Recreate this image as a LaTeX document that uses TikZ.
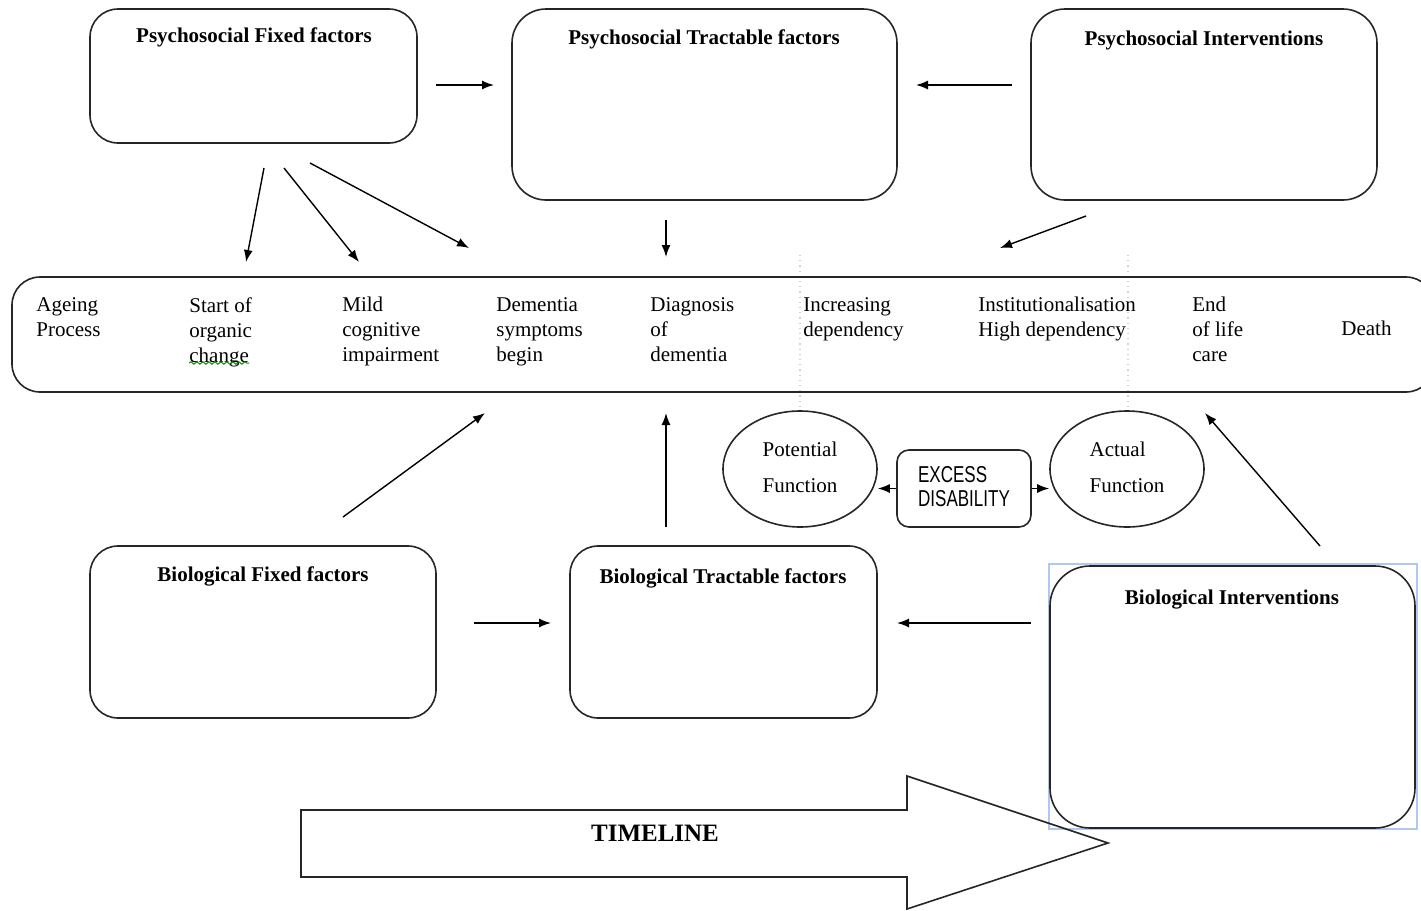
\documentclass[tikz,border=0pt]{standalone}
\usepackage{fontspec}
\setmainfont{Liberation Serif}
\newfontfamily\sansn[FakeStretch=0.74]{Liberation Sans}
\usetikzlibrary{arrows.meta,shapes.geometric,decorations.pathmorphing}
\begin{document}
\begin{tikzpicture}[x=0.5pt,y=-0.5pt,
  box/.style={draw=black!85, line width=0.8pt, rounded corners=14pt, inner sep=0pt},
  title/.style={font=\fontsize{10.5}{12.5}\selectfont\bfseries, inner sep=0pt},
  stage/.style={font=\fontsize{10.5}{12.5}\selectfont, align=left, anchor=north west, inner sep=0pt},
  arr/.style={line width=0.7pt, -{Latex[length=6pt,width=4.5pt]}},
  ell/.style={draw=black!85, line width=0.8pt, ellipse, minimum width=77pt, minimum height=58pt, inner sep=0pt},
  fn/.style={font=\fontsize{10.5}{18}\selectfont, align=left, inner sep=0pt}
]
\useasboundingbox (0,0) rectangle (1421,911);
\clip (0,0) rectangle (1421,911);

% dotted guide lines
\draw[gray!35, dotted, line width=0.6pt] (800,255) -- (800,411);
\draw[gray!35, dotted, line width=0.6pt] (1128,255) -- (1128,411);

% psychosocial boxes
\node[box, minimum width=163.5pt, minimum height=67pt] (pff) at (253.5,76) {};
\node[title] (pfft) at (254,37) {Psychosocial Fixed factors};
\node[box, rounded corners=17pt, minimum width=192.5pt, minimum height=95.5pt] (ptf) at (704.5,104.5) {};
\node[title] (ptft) at (704,39) {Psychosocial Tractable factors};
\node[box, rounded corners=17pt, minimum width=173pt, minimum height=95.5pt] (pi) at (1204,104.5) {};
\node[title] (pit) at (1204,40) {Psychosocial Interventions};

% timeline stages box
\node[box, minimum width=711pt, minimum height=57.5pt] (tl) at (723,334.5) {};
\node[stage] (s1) at (36,297) {Ageing\\Process};
\node[stage] (s2) at (189,297) {Start of\\organic\\change};
\node[stage] (s3) at (342,297) {Mild\\cognitive\\impairment};
\node[stage] (s4) at (496,297) {Dementia\\symptoms\\begin};
\node[stage] (s5) at (650,297) {Diagnosis\\of\\dementia};
\node[stage] (s6) at (803,297) {Increasing\\dependency};
\node[stage] (s7) at (978,297) {Institutionalisation\\High dependency};
\node[stage] (s8) at (1192,297) {End\\of life\\care};
\node[stage] (s9) at (1341,321) {Death};
\draw[green!55!black, line width=0.5pt, decorate, decoration={snake, amplitude=0.6pt, segment length=3pt}] (189,363) -- (249,363);

% function ellipses and excess disability
\node[ell] (pf) at (800,469) {};
\node[fn] (pft) at (800,467) {Potential\\Function};
\node[ell] (af) at (1127,469) {};
\node[fn] (aft) at (1127,467) {Actual\\Function};
\node[box, rounded corners=6pt, minimum width=67pt, minimum height=38.5pt] (ed) at (964,488.5) {};
\node[font=\sansn\fontsize{11.5}{12}\selectfont, align=left, inner sep=0pt] (edt) at (964,487) {EXCESS\\DISABILITY};
\draw[arr] (ed.west) -- (pf.east |- ed.west);
\draw[arr] (ed.east) -- (af.west |- ed.east);

% biological boxes
\node[box, minimum width=173pt, minimum height=86pt] (bff) at (263,632) {};
\node[title] (bfft) at (263,576) {Biological Fixed factors};
\node[box, minimum width=153.5pt, minimum height=86pt] (btf) at (723.5,632) {};
\node[title] (btft) at (723,578) {Biological Tractable factors};
\draw[draw={rgb,255:red,175;green,200;blue,240}, line width=0.6pt] (1049,564) rectangle (1417,829);
\node[box, rounded corners=20pt, minimum width=182.5pt, minimum height=131pt] (bi) at (1232.5,697) {};
\node[title] (bit) at (1232,600) {Biological Interventions};

% arrow end points
\coordinate (p1) at (436,85);   \coordinate (p2) at (494,85);
\coordinate (p3) at (1012,85);  \coordinate (p4) at (916,85);
\coordinate (q1) at (264,168);  \coordinate (q2) at (246,262);
\coordinate (q3) at (284,168);  \coordinate (q4) at (359,262);
\coordinate (q5) at (310,163);  \coordinate (q6) at (469,248);
\coordinate (q7) at (666,220);  \coordinate (q8) at (666,257);
\coordinate (q9) at (1086,216); \coordinate (q10) at (1000,248);
\coordinate (r1) at (343,517);  \coordinate (r2) at (485,413);
\coordinate (r3) at (666,527);  \coordinate (r4) at (666,413);
\coordinate (r5) at (1320,546); \coordinate (r6) at (1205,413);
\coordinate (b1) at (474,623);  \coordinate (b2) at (551,623);
\coordinate (b3) at (1031,623); \coordinate (b4) at (897,623);

\draw[arr] (p1) -- (p2);
\draw[arr] (p3) -- (p4);
\draw[arr] (q1) -- (q2);
\draw[arr] (q3) -- (q4);
\draw[arr] (q5) -- (q6);
\draw[arr] (q7) -- (q8);
\draw[arr] (q9) -- (q10);
\draw[arr] (r1) -- (r2);
\draw[arr] (r3) -- (r4);
\draw[arr] (r5) -- (r6);
\draw[arr] (b1) -- (b2);
\draw[arr] (b3) -- (b4);

% timeline block arrow
\draw[black!85, line width=0.8pt] (301,810) -- (907,810) -- (907,776) -- (1108,843) -- (907,909) -- (907,877) -- (301,877) -- cycle;
\node[font=\fontsize{12.5}{14}\selectfont\bfseries, inner sep=0pt] (tlt) at (655,833) {TIMELINE};
\end{tikzpicture}
\end{document}
